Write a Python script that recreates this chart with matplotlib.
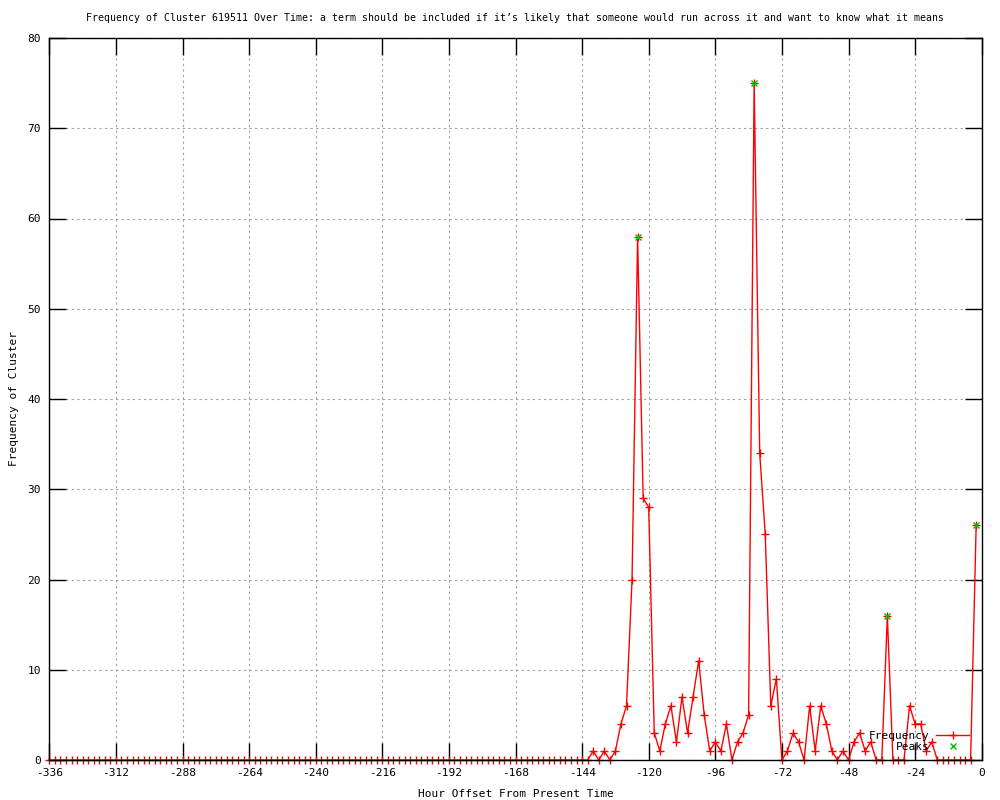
import numpy as np
import matplotlib
matplotlib.use("Agg")
import matplotlib.pyplot as plt

title = ("Frequency of Cluster 619511 Over Time: a term should be included if it\u2019s "
         "likely that someone would run across it and want to know what it means")
x_label = "Hour Offset From Present Time"
y_label = "Frequency of Cluster"

hours = list(range(-336, 0, 2))
frequency = [
    # -336 .. -144
    0, 0, 0, 0, 0, 0, 0, 0, 0, 0, 0, 0, 0, 0, 0, 0, 0, 0, 0, 0,
    0, 0, 0, 0, 0, 0, 0, 0, 0, 0, 0, 0, 0, 0, 0, 0, 0, 0, 0, 0,
    0, 0, 0, 0, 0, 0, 0, 0, 0, 0, 0, 0, 0, 0, 0, 0, 0, 0, 0, 0,
    0, 0, 0, 0, 0, 0, 0, 0, 0, 0, 0, 0, 0, 0, 0, 0, 0, 0, 0, 0,
    0, 0, 0, 0, 0, 0, 0, 0, 0, 0, 0, 0, 0, 0, 0, 0, 0,
    # -142 .. -2
    0, 1, 0, 1, 0, 1, 4, 6, 20, 58, 29, 28, 3, 1, 4, 6, 2, 7, 3, 7,
    11, 5, 1, 2, 1, 4, 0, 2, 3, 5, 75, 34, 25, 6, 9, 0, 1, 3, 2, 0,
    6, 1, 6, 4, 1, 0, 1, 0, 2, 3, 1, 2, 0, 0, 16, 0, 0, 0, 6, 4,
    4, 1, 2, 0, 0, 0, 0, 0, 0, 0, 26,
]
peak_hours = [-124, -82, -34, -2]
peak_values = [58, 75, 16, 26]

x_ticks = list(range(-336, 1, 24))
y_ticks = list(range(0, 81, 10))

plt.rcParams['font.family'] = ['DejaVu Sans Mono', 'DejaVu Sans']
plt.rcParams['axes.unicode_minus'] = False
FS = 8

fig = plt.figure(figsize=(10, 8), dpi=100)
ax = fig.add_axes([0.0493, 0.05, 0.9324, 0.9025])

ax.plot(hours, frequency, color='#ff0000', lw=1, marker='+', ms=6, mew=1,
        clip_on=False, zorder=2, label='Frequency')
ax.plot(peak_hours, peak_values, ls='none', color='#00c000', marker='x', ms=5,
        mew=1, clip_on=False, zorder=3, label='Peaks')

ax.set_xlim(-336, 0)
ax.set_ylim(0, 80)
ax.set_xticks(x_ticks)
ax.set_yticks(y_ticks)
ax.tick_params(direction='in', length=12, width=1, top=True, right=True,
               labelsize=FS, pad=6, colors='black')
ax.grid(True, color='#a0a0a0', ls=(0, (2, 3)), lw=0.8)
for s in ax.spines.values():
    s.set_linewidth(1)
    s.set_zorder(2.5)

ax.set_title(title, fontsize=7.1, pad=12)
ax.set_xlabel(x_label, fontsize=FS, labelpad=8)
ax.set_ylabel(y_label, fontsize=FS, labelpad=6)

leg = ax.legend(loc='lower right', bbox_to_anchor=(0.995, 0.0), frameon=False,
                markerfirst=False, fontsize=FS, handlelength=3.0,
                labelspacing=0.1, borderaxespad=0.3, handletextpad=0.6)
for t in leg.get_texts():
    t.set_ha('right')

fig.savefig('out.png', dpi=100)
